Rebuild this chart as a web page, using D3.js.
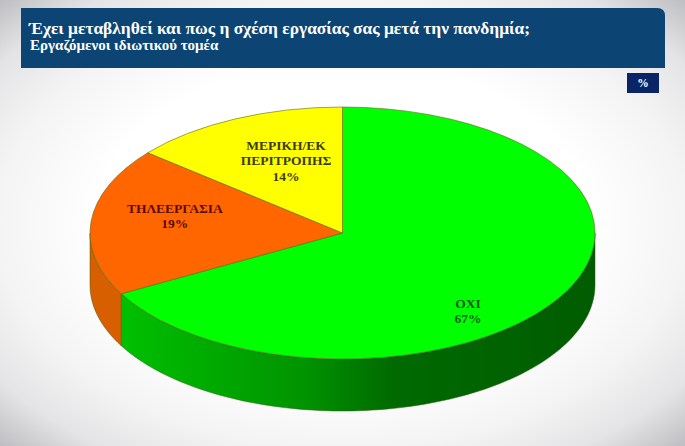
<!DOCTYPE html>
<html>
<head>
<meta charset="utf-8">
<style>
html, body { margin: 0; padding: 0; background: #fff; }
svg { display: block; }
text { font-family: "Liberation Serif", serif; font-weight: bold; }
.lbl { font-size: 13.5px; text-anchor: middle; }
</style>
</head>
<body>
<svg width="685" height="446"></svg>
<script src="https://d3js.org/d3.v7.min.js"></script>
<script>

var categories = ["ΟΧΙ", "ΤΗΛΕΕΡΓΑΣΙΑ", "ΜΕΡΙΚΗ/ΕΚ ΠΕΡΙΤΡΟΠΗΣ"];
var values = [67, 19, 14];
var topColors = ["#00ff00", "#ff6600", "#ffff00"];
var sideColors = ["url(#greenSide)", "#d85f00", "#cccc00"];
var labelColors = ["#0a5a14", "#5c0a0a", "#3c3c14"];
var labelLines = [["ΟΧΙ"], ["ΤΗΛΕΕΡΓΑΣΙΑ"], ["ΜΕΡΙΚΗ/ΕΚ", "ΠΕΡΙΤΡΟΠΗΣ"]];
var titleText = "Έχει μεταβληθεί και πως η σχέση εργασίας σας μετά την πανδημία;";
var subtitleText = "Εργαζόμενοι ιδιωτικού τομέα";

var svg = d3.select("svg"),
    width = +svg.attr("width"),
    height = +svg.attr("height");

var cx = 342.5, cy = 233, rx = 252.5, ry = 126, depth = 52;

var defs = svg.append("defs");

var bg = defs.append("radialGradient").attr("id", "bg")
    .attr("cx", "50%").attr("cy", "50%").attr("r", "72%");
bg.append("stop").attr("offset", "0.5").attr("stop-color", "#ffffff");
bg.append("stop").attr("offset", "0.7").attr("stop-color", "#f4f4f4");
bg.append("stop").attr("offset", "0.85").attr("stop-color", "#e4e4e6");
bg.append("stop").attr("offset", "1").attr("stop-color", "#b8b9bc");

var gs = defs.append("linearGradient").attr("id", "greenSide")
    .attr("gradientUnits", "userSpaceOnUse")
    .attr("x1", cx - rx).attr("x2", cx + rx).attr("y1", 0).attr("y2", 0);
gs.append("stop").attr("offset", "0.06").attr("stop-color", "#00c000");
gs.append("stop").attr("offset", "0.42").attr("stop-color", "#009400");
gs.append("stop").attr("offset", "0.6").attr("stop-color", "#006a00");
gs.append("stop").attr("offset", "1").attr("stop-color", "#005c00");

svg.append("rect").attr("width", width).attr("height", height).attr("fill", "url(#bg)");

// header band, only the top right corner is round
var hx = 21, hy = 8, hw = 644, hh = 60, hr = 8;
svg.append("path")
    .attr("d", "M" + hx + "," + hy + "H" + (hx + hw - hr) +
      "Q" + (hx + hw) + "," + hy + " " + (hx + hw) + "," + (hy + hr) +
      "V" + (hy + hh) + "H" + hx + "Z")
    .attr("fill", "#0c4473");

svg.append("text").attr("x", 29).attr("y", 34)
    .attr("fill", "#fff").attr("font-size", 17.4).text(titleText);
svg.append("text").attr("x", 30).attr("y", 50)
    .attr("fill", "#fff").attr("font-size", 15).text(subtitleText);

svg.append("rect").attr("x", 627).attr("y", 73).attr("width", 32).attr("height", 20)
    .attr("fill", "#0a2468");
svg.append("text").attr("x", 643).attr("y", 87).attr("text-anchor", "middle")
    .attr("fill", "#fff").attr("font-size", 11.5).text("%");

var pie = d3.pie().sort(null).value(function(d) { return d; });
var slices = pie(values);

// the pie is drawn on a unit circle and squashed into an ellipse
var xs = d3.scaleLinear().domain([-1, 1]).range([cx - rx, cx + rx]);
var ys = d3.scaleLinear().domain([-1, 1]).range([cy - ry, cy + ry]);

function rim(a, dy) {
  return [xs(Math.sin(a)), ys(-Math.cos(a)) + dy];
}

var line = d3.line();

// outer wall, only where the rim faces the viewer (PI/2 to 3PI/2)
function wall(d) {
  var a0 = Math.max(d.startAngle, Math.PI / 2),
      a1 = Math.min(d.endAngle, Math.PI * 1.5);
  if (a1 <= a0) return null;
  var steps = d3.range(0, 101).map(function(i) { return a0 + (a1 - a0) * i / 100; });
  var front = steps.map(function(a) { return rim(a, 0); });
  var back = steps.slice().reverse().map(function(a) { return rim(a, depth); });
  return line(front.concat(back)) + "Z";
}

svg.append("g").selectAll("path")
    .data(slices.filter(function(d) { return wall(d); }))
    .enter().append("path")
    .attr("d", wall)
    .attr("fill", function(d) { return sideColors[d.index]; })
    .attr("stroke", "#2f5a10")
    .attr("stroke-width", 0.5);

var arc = d3.arc().innerRadius(0).outerRadius(1);

svg.append("g")
    .attr("transform", "translate(" + cx + "," + cy + ") scale(" + rx + "," + ry + ")")
    .selectAll("path")
    .data(slices)
    .enter().append("path")
    .attr("d", arc)
    .attr("fill", function(d) { return topColors[d.index]; })
    .attr("stroke", "#5a6a10")
    .attr("stroke-width", 0.6)
    .attr("vector-effect", "non-scaling-stroke");

// label anchors in unit circle coordinates
var labelPos = [[0.497, 0.595], [-0.664, -0.16], [-0.224, -0.659]];

var labels = svg.append("g").selectAll("text")
    .data(slices)
    .enter().append("text")
    .attr("class", "lbl")
    .attr("fill", function(d) { return labelColors[d.index]; })
    .attr("transform", function(d) {
      var p = labelPos[d.index];
      return "translate(" + xs(p[0]) + "," + ys(p[1]) + ")";
    });

labels.each(function(d) {
  var t = d3.select(this), rows = labelLines[d.index].concat(d.value + "%");
  rows.forEach(function(r, i) {
    t.append("tspan").attr("x", 0).attr("y", i * 15.5).text(r);
  });
});

</script>
</body>
</html>
